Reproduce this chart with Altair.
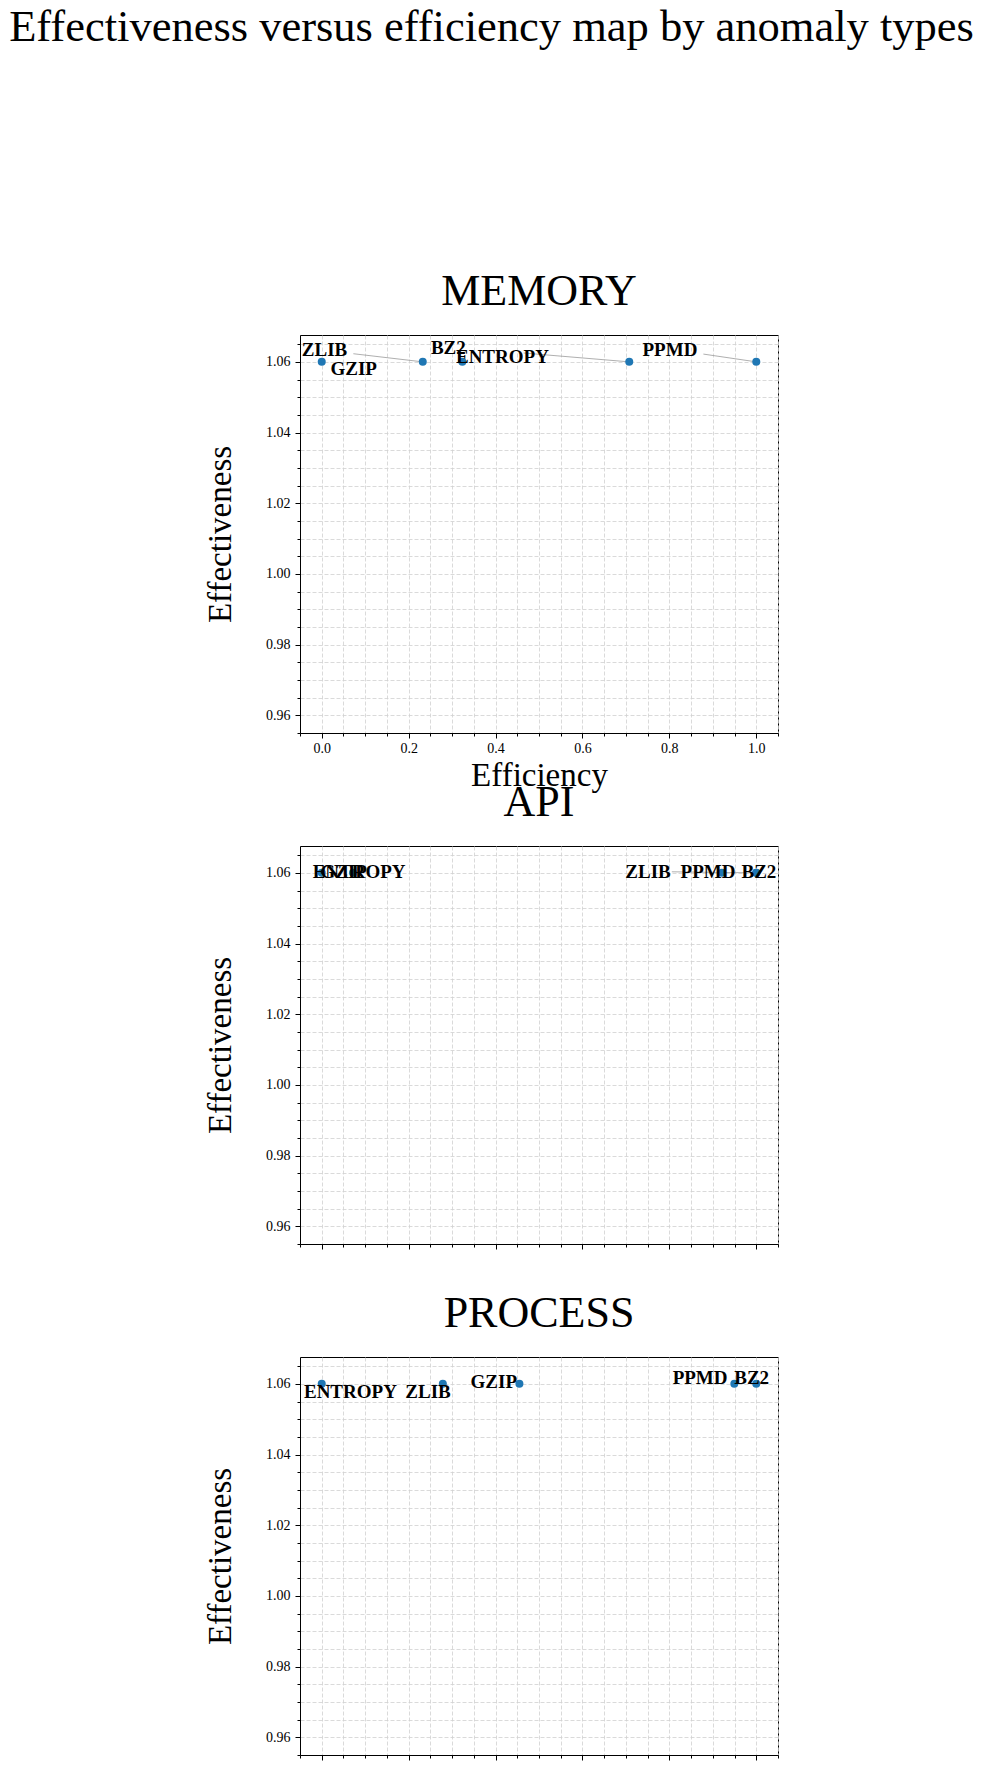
import altair as alt
import pandas as pd

FONT = "Liberation Serif"

main_title = "Effectiveness versus efficiency map by anomaly types"
panel_names = ["MEMORY", "API", "PROCESS"]
x_title = "Efficiency"
y_title = "Effectiveness"

# ---- MEMORY ----
memory_methods = ["GZIP", "ZLIB", "BZ2", "ENTROPY", "PPMD"]
memory_efficiency = [0.0, 0.2325, 0.3236, 0.7077, 1.0]
memory_effectiveness = [1.06, 1.06, 1.06, 1.06, 1.06]
memory_label_x = [0.0735, 0.0065, 0.2913, 0.4158, 0.8013]
memory_label_y = [1.0579, 1.0633, 1.0639, 1.0613, 1.0634]
memory_link_x = [None, 0.0728, None, 0.4648, 0.8783]
memory_link_y = [None, 1.0623, None, 1.0625, 1.0622]

# ---- API ----
api_methods = ["ENTROPY", "GZIP", "PPMD", "ZLIB", "BZ2"]
api_efficiency = [0.0, 0.072, 0.921, 1.0, 1.0]
api_effectiveness = [1.06, 1.06, 1.06, 1.06, 1.06]
api_label_x = [0.0861, 0.0505, 0.889, 0.751, 1.006]
api_label_y = [1.0603, 1.0603, 1.0603, 1.0603, 1.0603]
api_link_x = [None, None, None, 0.8057, None]
api_link_y = [None, None, None, 1.0603, None]

# ---- PROCESS ----
process_methods = ["ENTROPY", "ZLIB", "GZIP", "PPMD", "BZ2"]
process_efficiency = [0.0, 0.2787, 0.4549, 0.9495, 1.0]
process_effectiveness = [1.06, 1.06, 1.06, 1.06, 1.06]
process_label_x = [0.066, 0.2447, 0.396, 0.8707, 0.9894]
process_label_y = [1.0576, 1.0576, 1.0606, 1.0618, 1.0618]
process_link_x = [None, None, None, None, None]
process_link_y = [None, None, None, None, None]

# axis tick positions (major + minor)
x_ticks = [-0.05, 0.0, 0.05, 0.1, 0.15, 0.2, 0.25, 0.3, 0.35, 0.4, 0.45, 0.5,
           0.55, 0.6, 0.65, 0.7, 0.75, 0.8, 0.85, 0.9, 0.95, 1.0, 1.05]
y_ticks = [0.955, 0.96, 0.965, 0.97, 0.975, 0.98, 0.985, 0.99, 0.995, 1.0,
           1.005, 1.01, 1.015, 1.02, 1.025, 1.03, 1.035, 1.04, 1.045, 1.05,
           1.055, 1.06, 1.065]
x_domain = [-0.05, 1.05]
y_domain = [0.955, 1.0676]

X_MAJOR = "abs(datum.value*5 - round(datum.value*5)) < 0.0001"
Y_MAJOR = "abs(datum.value*50 - round(datum.value*50)) < 0.0001"


def panel(name, methods, eff, effv, lx, ly, linkx, linky, show_x):
    df = pd.DataFrame({
        "method": methods, "efficiency": eff, "effectiveness": effv,
        "lx": lx, "ly": ly, "kx": linkx, "ky": linky,
    })
    xs = alt.Scale(domain=x_domain, nice=False, zero=False)
    ys = alt.Scale(domain=y_domain, nice=False, zero=False)

    xaxis_kw = dict(
        values=x_ticks, grid=True, gridDash=[4, 2], gridColor="#d0d0d0", gridWidth=0.8,
        tickSize={"condition": {"test": X_MAJOR, "value": 5}, "value": 3},
        tickColor="black", tickWidth=1, domainColor="black", domainWidth=1,
        labelOverlap=False, labelFlush=False,
        labelFont=FONT, labelFontSize=14, labelColor="black", labelPadding=3,
        titleFont=FONT, titleFontSize=33, titleFontWeight="normal", titleColor="black",
        titlePadding=4,
    )
    if show_x:
        xaxis_kw["labelExpr"] = f"({X_MAJOR}) ? format(datum.value, '.1f') : ''"
    else:
        xaxis_kw["labels"] = False
    xaxis = alt.Axis(**xaxis_kw)

    yaxis = alt.Axis(
        values=y_ticks, grid=True, gridDash=[4, 2], gridColor="#d0d0d0", gridWidth=0.8,
        tickSize={"condition": {"test": Y_MAJOR, "value": 5}, "value": 3},
        tickColor="black", tickWidth=1, domainColor="black", domainWidth=1,
        labelOverlap=False, labelFlush=False,
        labelExpr=f"({Y_MAJOR}) ? format(datum.value, '.2f') : ''",
        labelFont=FONT, labelFontSize=14, labelColor="black", labelPadding=5,
        titleFont=FONT, titleFontSize=33, titleFontWeight="normal", titleColor="black",
        titlePadding=28,
    )
    xt = x_title if show_x else None

    base = alt.Chart(df)
    pts = base.mark_circle(size=64, color="#1f77b4", opacity=1).encode(
        x=alt.X("efficiency:Q", scale=xs, axis=xaxis, title=xt),
        y=alt.Y("effectiveness:Q", scale=ys, axis=yaxis, title=y_title),
    )
    links = base.transform_filter("isValid(datum.kx)").mark_rule(
        color="#9a9a9a", strokeWidth=0.8
    ).encode(
        x=alt.X("kx:Q", scale=xs, axis=xaxis, title=xt),
        y=alt.Y("ky:Q", scale=ys, axis=yaxis, title=y_title),
        x2="efficiency:Q",
        y2="effectiveness:Q",
    )
    labels = base.mark_text(
        font=FONT, fontWeight="bold", fontSize=19, color="black",
        align="center", baseline="middle",
    ).encode(
        x=alt.X("lx:Q", scale=xs, axis=xaxis, title=xt),
        y=alt.Y("ly:Q", scale=ys, axis=yaxis, title=y_title),
        text="method:N",
    )
    return alt.layer(links, pts, labels).properties(
        width=478, height=398,
        title=alt.TitleParams(name, font=FONT, fontSize=44, fontWeight="normal",
                              color="black", anchor="middle", offset=21),
    )


c1 = panel(panel_names[0], memory_methods, memory_efficiency, memory_effectiveness,
           memory_label_x, memory_label_y, memory_link_x, memory_link_y, True)
c2 = panel(panel_names[1], api_methods, api_efficiency, api_effectiveness,
           api_label_x, api_label_y, api_link_x, api_link_y, False)
c3 = panel(panel_names[2], process_methods, process_efficiency, process_effectiveness,
           process_label_x, process_label_y, process_link_x, process_link_y, False)

chart = alt.vconcat(c1, c2, c3, spacing=113, bounds="flush").properties(
    title=alt.TitleParams(main_title, font=FONT, fontSize=44.5, fontWeight="normal",
                          color="black", anchor="middle", offset=219),
    padding={"left": 9, "top": 5, "right": 5, "bottom": 0},
).configure_view(stroke="black", strokeWidth=1)

chart.save("out.html", embed_options={"renderer": "svg", "actions": False})
